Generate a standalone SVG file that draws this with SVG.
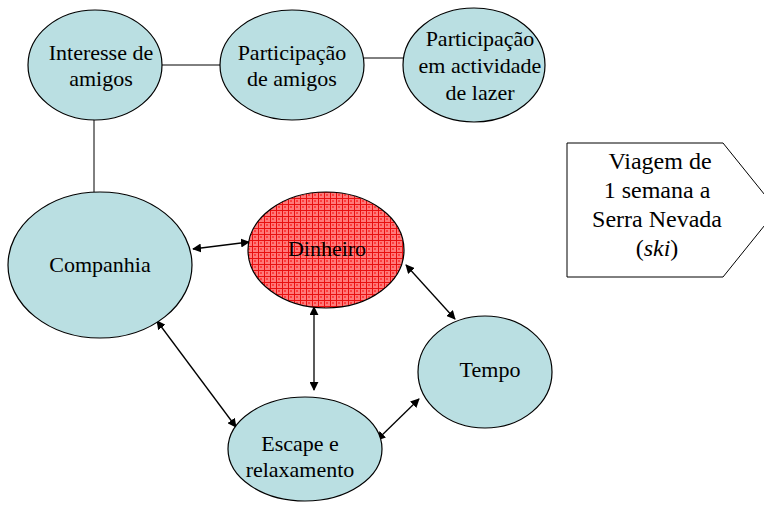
<svg xmlns="http://www.w3.org/2000/svg" width="764" height="508" viewBox="0 0 764 508">
<style>
.n{fill:#badfe2;stroke:#000;stroke-width:1.2}
.t{font-family:'Liberation Serif','Times New Roman',serif;font-size:22px;fill:#000;text-anchor:middle}
.b{font-family:'Liberation Serif','Times New Roman',serif;font-size:24px;fill:#000;text-anchor:middle}
.l{stroke:#000;stroke-width:1;fill:none}
.a{stroke:#000;stroke-width:1.3;fill:none;marker-start:url(#ah);marker-end:url(#ah)}
</style>
<defs>
<marker id="ah" viewBox="0 0 10 10" refX="9" refY="5" markerWidth="9" markerHeight="9" markerUnits="userSpaceOnUse" orient="auto-start-reverse">
<path d="M0,0 L10,5 L0,10 Z" fill="#000"/>
</marker>
<pattern id="hatch" width="6" height="6" patternUnits="userSpaceOnUse">
<rect width="6" height="6" fill="#ff7a7a"/>
<rect x="2" y="2" width="2" height="2" fill="#ff4040"/>
<path d="M0,0.5 H6 M0.5,0 V6" stroke="#e81010" stroke-width="1"/>
</pattern>
</defs>
<rect width="764" height="508" fill="#fff"/>
<g id="connectors">
<line class="l" x1="161" y1="65" x2="220" y2="65"/>
<line class="l" x1="364" y1="58" x2="403" y2="58"/>
<line class="l" x1="94" y1="119" x2="94" y2="192"/>
<line class="a" x1="193" y1="249" x2="249" y2="242"/>
<line class="a" x1="406" y1="265" x2="455" y2="319"/>
<line class="a" x1="419" y1="399" x2="377" y2="440"/>
<line class="a" x1="314" y1="307" x2="314" y2="390"/>
<line class="a" x1="157" y1="321" x2="236" y2="427"/>
</g>
<g id="interesse">
<ellipse class="n" cx="95" cy="65" rx="67" ry="55"/>
<text class="t" x="101" y="60">Interesse de</text>
<text class="t" x="101" y="86">amigos</text>
</g>
<g id="participacao">
<ellipse class="n" cx="292" cy="65" rx="72" ry="55"/>
<text class="t" x="292" y="60">Participação</text>
<text class="t" x="292" y="86">de amigos</text>
</g>
<g id="actividade">
<ellipse class="n" cx="474" cy="65" rx="71" ry="57"/>
<text class="t" x="480" y="46">Participação</text>
<text class="t" x="480" y="73">em actividade</text>
<text class="t" x="480" y="100">de lazer</text>
</g>
<g id="companhia">
<ellipse class="n" cx="100" cy="265" rx="92" ry="73"/>
<text class="t" x="100" y="272">Companhia</text>
</g>
<g id="dinheiro">
<ellipse cx="326" cy="250" rx="78" ry="58" fill="url(#hatch)" stroke="#000" stroke-width="1.2"/>
<text class="t" x="327" y="256">Dinheiro</text>
</g>
<g id="tempo">
<ellipse class="n" cx="485" cy="372" rx="67" ry="56"/>
<text class="t" x="490" y="377">Tempo</text>
</g>
<g id="escape">
<ellipse class="n" cx="305" cy="449" rx="77" ry="52"/>
<text class="t" x="300" y="451">Escape e</text>
<text class="t" x="300" y="477">relaxamento</text>
</g>
<g id="viagem">
<path d="M567,143 H723 L777,210 L723,277 H567 Z" fill="#fff" stroke="#000" stroke-width="1"/>
<text class="b" x="660" y="169">Viagem de</text>
<text class="b" x="657" y="198">1 semana a</text>
<text class="b" x="657" y="227">Serra Nevada</text>
<text class="b" x="657" y="256">(<tspan font-style="italic">ski</tspan>)</text>
</g>
</svg>
